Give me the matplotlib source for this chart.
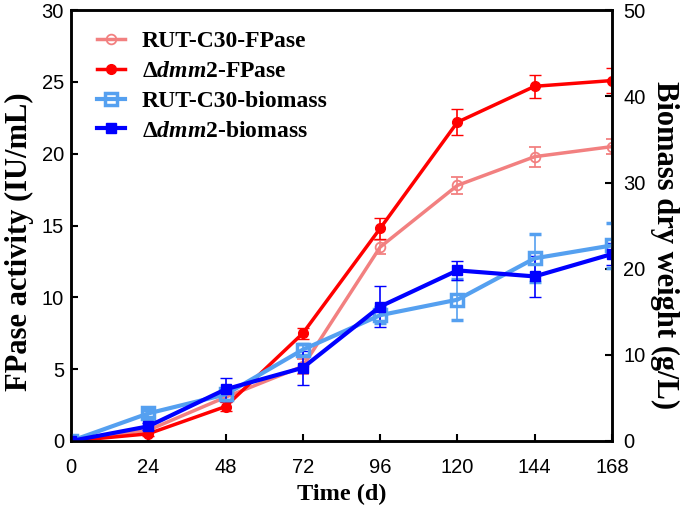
import matplotlib
matplotlib.use("Agg")
import matplotlib.pyplot as plt

time = [0, 24, 48, 72, 96, 120, 144, 168]
rut_fpase = [0, 0.75, 3.05, 5.2, 13.5, 17.8, 19.8, 20.5]
rut_fpase_err = [0, 0.15, 0.3, 0.5, 0.5, 0.6, 0.7, 0.5]
dmm_fpase = [0, 0.5, 2.4, 7.5, 14.8, 22.2, 24.7, 25.1]
dmm_fpase_err = [0, 0.15, 0.3, 0.4, 0.7, 0.9, 0.8, 0.9]
rut_bio = [0, 3.2, 5.4, 10.6, 14.6, 16.4, 21.2, 22.7]
rut_bio_err = [0, 0.4, 0.6, 0.6, 0.9, 2.4, 2.8, 2.6]
dmm_bio = [0, 1.7, 6.0, 8.5, 15.6, 19.8, 19.1, 21.7]
dmm_bio_err = [0, 0.4, 1.3, 2.0, 2.4, 1.1, 2.4, 1.3]

plt.rcParams['font.family'] = ['Liberation Serif', 'DejaVu Serif']
plt.rcParams['font.weight'] = 'bold'
plt.rcParams['mathtext.fontset'] = 'custom'
plt.rcParams['mathtext.it'] = 'Liberation Serif:italic:bold'
plt.rcParams['mathtext.rm'] = 'Liberation Serif:bold'

c_pink = '#F28080'
c_red = '#FF0000'
c_lblue = '#55A0F0'
c_blue = '#0000FF'

fig = plt.figure(figsize=(6.85, 5.09), dpi=100)
ax = fig.add_axes([0.1036, 0.1336, 0.7898, 0.8464])
ax2 = ax.twinx()

l1 = ax.errorbar(time, rut_fpase, yerr=rut_fpase_err, color=c_pink, lw=2.5,
                 marker='o', ms=7, mfc='none', mew=1.3, capsize=4, elinewidth=1.2,
                 label='RUT-C30-FPase')
l2 = ax.errorbar(time, dmm_fpase, yerr=dmm_fpase_err, color=c_red, lw=2.5,
                 marker='o', ms=7, mfc=c_red, capsize=4, elinewidth=1.2,
                 label=r'Δ$\mathit{dmm2}$-FPase')
l3 = ax2.errorbar(time, rut_bio, yerr=rut_bio_err, color=c_lblue, lw=3,
                  marker='s', ms=8, mfc='none', mew=2.5, capsize=4, elinewidth=1.2,
                  label='RUT-C30-biomass')
l4 = ax2.errorbar(time, dmm_bio, yerr=dmm_bio_err, color=c_blue, lw=3,
                  marker='s', ms=7, mfc=c_blue, capsize=4, elinewidth=1.2,
                  label=r'Δ$\mathit{dmm2}$-biomass')

ax.set_xlim(0, 168)
ax.set_ylim(0, 30)
ax2.set_ylim(0, 50)
ax.set_xticks(time)
ax.set_yticks([0, 5, 10, 15, 20, 25, 30])
ax2.set_yticks([0, 10, 20, 30, 40, 50])

for a in (ax, ax2):
    a.tick_params(direction='in', length=5, width=1.5, labelsize=14.5)
    for s in a.spines.values():
        s.set_linewidth(1.8)
ax.tick_params(axis='x', pad=12)
ax.tick_params(axis='y', pad=5)
ax2.tick_params(axis='y', pad=8)
for lab in ax.get_xticklabels() + ax.get_yticklabels() + ax2.get_yticklabels():
    lab.set_fontfamily('Liberation Sans')
    lab.set_fontweight('normal')

ax.set_xlabel('Time (d)', fontsize=17.5, fontweight='bold', labelpad=5)
ax.set_ylabel('FPase activity (IU/mL)', fontsize=22, fontweight='bold')
ax.yaxis.set_label_coords(-0.068, 0.462)
ax2.set_ylabel('Biomass dry weight (g/L)', fontsize=22, fontweight='bold',
               rotation=270, va='center')
ax2.yaxis.set_label_coords(1.098, 0.455)

handles = [l1[0], l2[0], l3[0], l4[0]]
labels = [l1.get_label(), l2.get_label(), l3.get_label(), l4.get_label()]
leg = ax.legend(handles, labels, loc='upper left', frameon=False,
                prop={'weight': 'bold', 'size': 17},
                bbox_to_anchor=(0.048, 0.952), borderpad=0, borderaxespad=0,
                handlelength=1.2, handletextpad=0.7, labelspacing=0.35)

fig.savefig('out.png', dpi=100)
